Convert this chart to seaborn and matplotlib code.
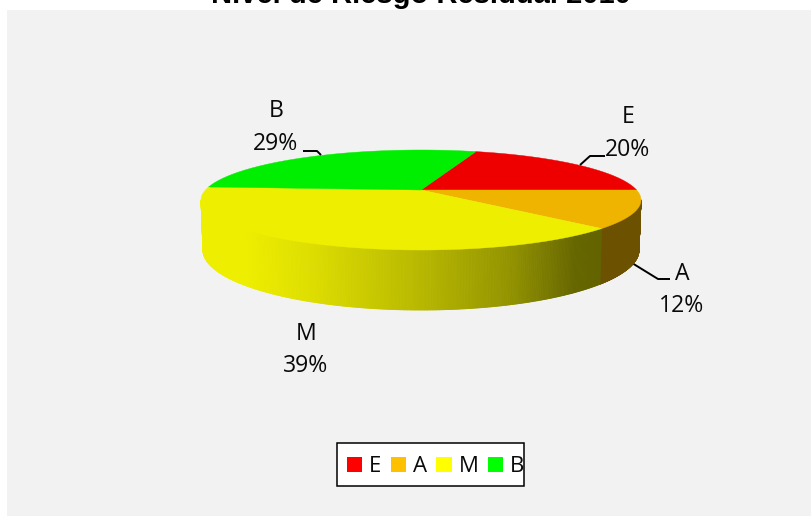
import numpy as np
import matplotlib
matplotlib.use("Agg")
import matplotlib.pyplot as plt
from matplotlib.patches import Polygon, Rectangle, Patch
from matplotlib.collections import PolyCollection
import seaborn as sns

categories = ["E", "A", "M", "B"]
values = [20, 12, 39, 29]
title = "Nivel de Riesgo Residual 2010"

top_colors = ["#ee0000", "#eeb400", "#eeee00", "#00ee00"]
legend_colors = ["#ff0000", "#ffc000", "#ffff00", "#00ff00"]

sns.set_theme(style="white")
plt.rcParams["font.family"] = ["Open Sans", "DejaVu Sans"]

W, H = 812, 516
fig = plt.figure(figsize=(W / 100, H / 100), dpi=100, facecolor="white")
ax = fig.add_axes([0, 0, 1, 1])
ax.set_xlim(0, W)
ax.set_ylim(H, 0)
ax.axis("off")
ax.add_patch(Rectangle((7, 10), W - 7, H - 10, fc="#f2f2f2", ec="none", zorder=0))

# projection of the pie
cx, cy, rx, ry = 421.0, 200.0, 220.0, 50.0
apex_y = 190.0
bx, by, brx, bry = 421.0, 250.0, 218.0, 60.0
start_deg = 72.0


def rim_angle(true_deg):
    """Ellipse parameter where a ray from the apex at the true pie angle meets the rim."""
    t = np.radians(true_deg)
    dx, dy = np.cos(t), np.sin(t)
    a = (cy - apex_y) / ry
    b = a * dy
    s = -b + np.sqrt(b * b - (a * a - 1))
    return np.arctan2(a + s * dy, s * dx)


edges = start_deg - np.concatenate([[0], np.cumsum(values)]) * 3.6
phis = np.array([rim_angle(d) for d in edges])
for i in range(1, 5):
    while phis[i] > phis[i - 1]:
        phis[i] -= 2 * np.pi


def top_pt(p):
    return cx + rx * np.cos(p), cy - ry * np.sin(p)


def bot_pt(p):
    return bx + brx * np.cos(p), by - bry * np.sin(p)


# side wall, front half only
shade_cos = [-1.0, -0.8, -0.5, 0.0, 0.4, 0.7, 0.85, 1.0]
shade_val = [1.0, 1.0, 0.93, 0.77, 0.62, 0.43, 0.41, 0.41]
base_wall = [np.array([0xee, 0x00, 0x00]) / 255, np.array([0xee, 0xb4, 0x00]) / 255,
             np.array([0xee, 0xee, 0x00]) / 255, np.array([0x00, 0xee, 0x00]) / 255]
polys, cols = [], []
for i in range(4):
    grid = np.linspace(phis[i], phis[i + 1], 400)
    for p0, p1 in zip(grid[:-1], grid[1:]):
        m = 0.5 * (p0 + p1)
        if np.sin(m) >= 0:
            continue
        polys.append([top_pt(p0), top_pt(p1), bot_pt(p1), bot_pt(p0)])
        f = 0.45 if i == 1 else np.interp(np.cos(m), shade_cos, shade_val)
        cols.append(base_wall[i] * f)
ax.add_collection(PolyCollection(polys, facecolors=cols, edgecolors=cols, linewidths=0.6, zorder=2))

# top face
for i in range(4):
    arc = np.linspace(phis[i], phis[i + 1], 300)
    pts = [(cx, apex_y)] + [top_pt(p) for p in arc]
    ax.add_patch(Polygon(pts, closed=True, fc=top_colors[i], ec=top_colors[i], lw=0.3, zorder=3))

# labels
label_xy = {"E": (628, 117, 150), "A": (682, 274, 306), "M": (306, 334, 366), "B": (276, 111, 144)}
for c, v in zip(categories, values):
    x, y1, y2 = label_xy[c]
    ax.text(x, y1, c, ha="center", va="center", fontsize=16.6, color="#0a0a0a", zorder=5)
    ax.text(x, y2, f"{v}%", ha="center", va="center", fontsize=16.6, color="#0a0a0a", zorder=5)

# leader lines
leaders = [[(605, 156), (590, 156), (580, 165)],
           [(670, 279), (658, 279), (632, 263)],
           [(303, 151), (317, 151), (321, 155)]]
for ln in leaders:
    xs, ys = zip(*ln)
    ax.plot(xs, ys, color="black", lw=1.4, zorder=1 if ln[0][0] == 670 else 4, solid_capstyle="butt")

# title
ax.text(421, 3, title, ha="center", va="baseline", fontsize=21, fontweight="bold",
        family="Liberation Sans", color="black", clip_on=False, zorder=6)

# legend
ax.add_patch(Rectangle((337, 443), 187, 43, fc="white", ec="black", lw=1.1, zorder=4))
handles = [Patch(fc=c, ec="none", label=n) for c, n in zip(legend_colors, categories)]
leg = ax.legend(handles=handles, ncols=4, loc="center left", bbox_to_anchor=(347 / W, 1 - 467 / H),
                frameon=False, labelcolor="#0a0a0a",
                fontsize=16, handlelength=0.68, handleheight=0.68, handletextpad=0.32,
                columnspacing=0.42, borderpad=0, borderaxespad=0)
leg.set_zorder(5)

fig.savefig("out.png", dpi=100, facecolor="white")
